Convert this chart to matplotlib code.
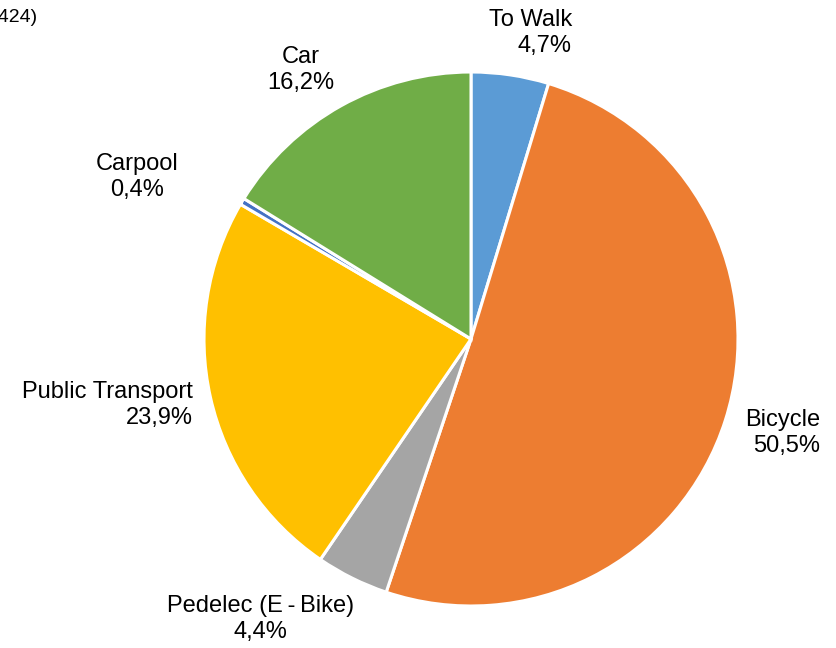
import matplotlib
matplotlib.use("Agg")
import matplotlib.pyplot as plt
import numpy as np

plt.rcParams['font.family'] = ['Liberation Sans', 'DejaVu Sans']

categories = ["To Walk", "Bicycle", "Pedelec (E\u2009-\u2009Bike)", "Public Transport", "Carpool", "Car"]
values = [4.7, 50.5, 4.4, 23.9, 0.4, 16.2]
value_labels = ["4,7%", "50,5%", "4,4%", "23,9%", "0,4%", "16,2%"]
colors = ["#5B9BD5", "#ED7D31", "#A5A5A5", "#FFC000", "#4472C4", "#70AD47"]

W, H = 837, 648
fig = plt.figure(figsize=(W / 100, H / 100), dpi=100)
cx, cy, r = 471, 339, 267
ax = fig.add_axes([(cx - r) / W, (H - cy - r) / H, 2 * r / W, 2 * r / H])
ax.pie(values, colors=colors, startangle=90, counterclock=False, radius=1,
       wedgeprops=dict(edgecolor="white", linewidth=2.2))
ax.set_xlim(-1, 1)
ax.set_ylim(-1, 1)
ax.set_aspect("equal")
ax.axis("off")

# label placement (data units, relative to pie centre) and alignment
label_pos = [(0.378, 1.146, "right"), (1.307, -0.352, "right"), (-0.787, -1.049, "center"),
             (-1.041, -0.247, "right"), (-1.251, 0.607, "center"), (-0.637, 1.007, "center")]
for cat, vl, (x, y, ha) in zip(categories, value_labels, label_pos):
    ax.text(x, y, f"{cat}\n{vl}", ha=ha, va="center", multialignment=ha,
            fontsize=17, linespacing=1.2, color="#000000", clip_on=False)

fig.text(37 / W, 1 - 18 / H, "(n = 424)", ha="right", va="center", fontsize=14)

fig.savefig("out.png", dpi=100, facecolor="white")
